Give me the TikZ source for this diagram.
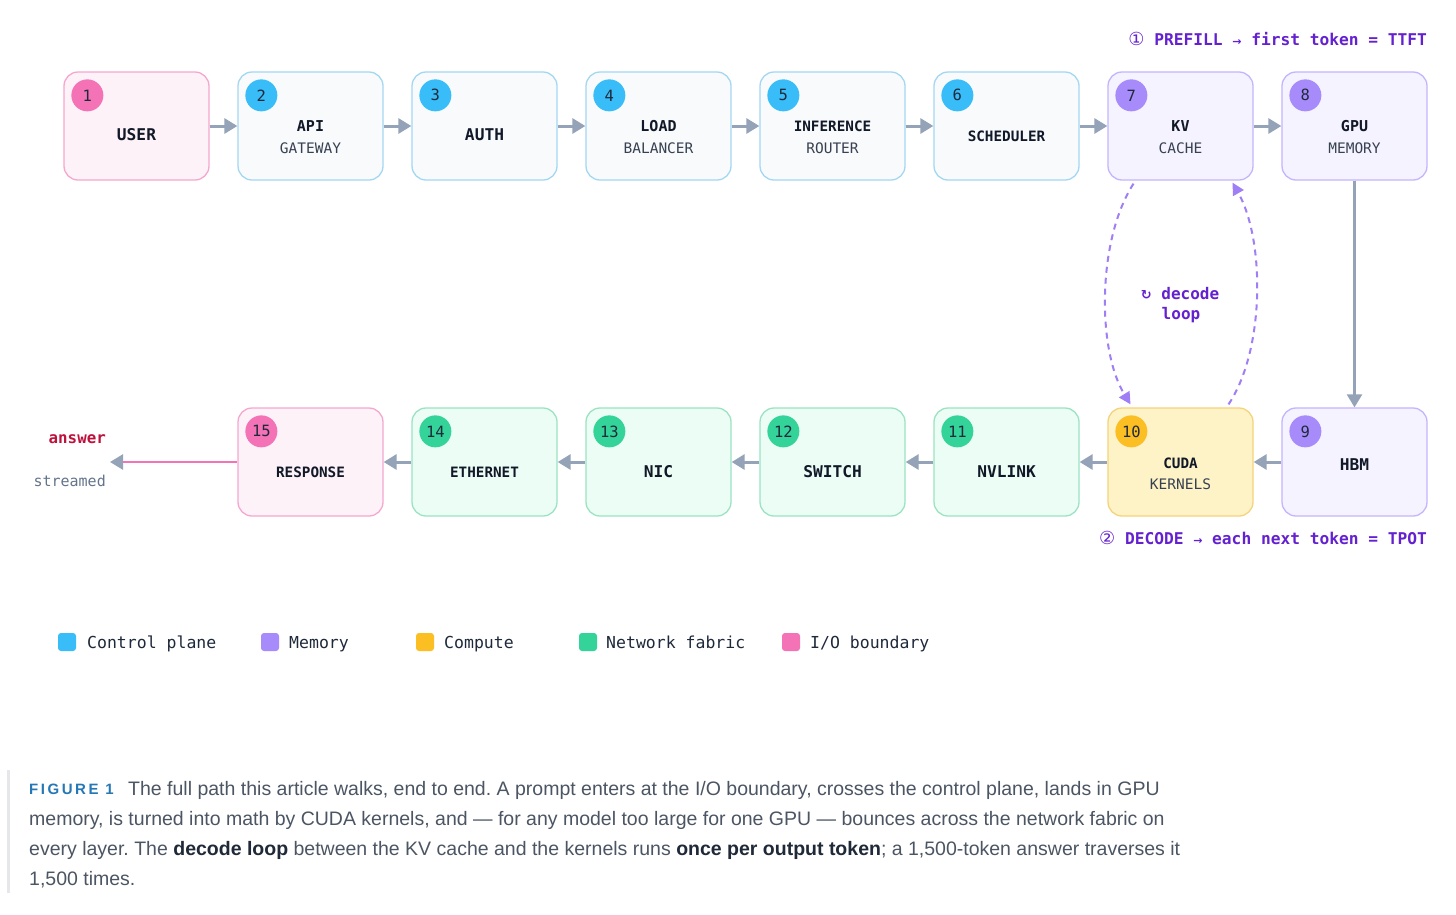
\documentclass[tikz,border=0pt]{standalone}
\usepackage{fontspec}
\setmainfont{Liberation Sans}
\setmonofont{DejaVu Sans Mono}
\newfontfamily\symfont{DejaVu Sans}
\newfontfamily\figfont[LetterSpace=17]{Liberation Sans}
\usetikzlibrary{arrows.meta}
\frenchspacing
\definecolor{ctrlFill}{HTML}{F8FAFC}
\definecolor{ctrlDraw}{HTML}{A3D7F2}
\definecolor{ctrlBadge}{HTML}{38BDF8}
\definecolor{memFill}{HTML}{F5F3FF}
\definecolor{memDraw}{HTML}{C4B5FD}
\definecolor{memBadge}{HTML}{A78BFA}
\definecolor{cmpFill}{HTML}{FEF3C7}
\definecolor{cmpDraw}{HTML}{F5D37A}
\definecolor{cmpBadge}{HTML}{FBBF24}
\definecolor{netFill}{HTML}{ECFDF5}
\definecolor{netDraw}{HTML}{9BE3C3}
\definecolor{netBadge}{HTML}{34D399}
\definecolor{ioFill}{HTML}{FDF2F8}
\definecolor{ioDraw}{HTML}{F5A8CF}
\definecolor{ioBadge}{HTML}{F472B6}
\definecolor{badgeText}{HTML}{1E293B}
\definecolor{titleC}{HTML}{111827}
\definecolor{subC}{HTML}{374151}
\definecolor{arrC}{HTML}{94A3B8}
\definecolor{purpleT}{HTML}{6421D0}
\definecolor{loopC}{HTML}{A07EF5}
\definecolor{answerC}{HTML}{BE123C}
\definecolor{grayT}{HTML}{64748B}
\definecolor{capT}{HTML}{4B5563}
\definecolor{capB}{HTML}{1F2937}
\definecolor{figC}{HTML}{2577B5}
\definecolor{barC}{HTML}{E5E7EB}
\tikzset{
  box/.style={draw, rounded corners=14pt, minimum width=145pt, minimum height=108pt, line width=1.3pt, inner sep=0pt},
  ctrlbox/.style={box, fill=ctrlFill, draw=ctrlDraw},
  membox/.style={box, fill=memFill, draw=memDraw},
  cmpbox/.style={box, fill=cmpFill, draw=cmpDraw},
  netbox/.style={box, fill=netFill, draw=netDraw},
  iobox/.style={box, fill=ioFill, draw=ioDraw},
  badge/.style={circle, minimum size=32pt, inner sep=0pt, font=\ttfamily\fontsize{15.5}{15}\selectfont, text=badgeText},
  ttl/.style={inner sep=0pt, text=titleC, font=\ttfamily\bfseries\fontsize{15}{15}\selectfont},
  ttlbig/.style={inner sep=0pt, text=titleC, font=\ttfamily\bfseries\fontsize{16.2}{16}\selectfont},
  ttlsm/.style={inner sep=0pt, text=titleC, font=\ttfamily\bfseries\fontsize{14.3}{14}\selectfont},
  sub/.style={inner sep=0pt, text=subC, font=\ttfamily\fontsize{14.5}{14}\selectfont},
  arr/.style={draw=arrC, line width=3pt, -{Triangle[length=13pt,width=15pt]}},
  loop/.style={draw=loopC, line width=2pt, dash pattern=on 6pt off 5pt, -{Triangle[length=12pt,width=12pt]}},
  swatch/.style={draw=none, rounded corners=3pt, minimum size=18pt, inner sep=0pt},
  legtxt/.style={inner sep=0pt, anchor=base west, text=badgeText, font=\ttfamily\fontsize{16.5}{16}\selectfont},
  phase/.style={inner sep=0pt, anchor=base east, text=purpleT, font=\ttfamily\bfseries\fontsize{16.2}{16}\selectfont},
  captxt/.style={inner sep=0pt, anchor=base west, text=capT, font=\fontsize{19.5}{19}\selectfont},
}
\begin{document}
\begin{tikzpicture}[x=1pt,y=-1pt]
\useasboundingbox (0,0) rectangle (1456,914);
\fill[white] (0,0) rectangle (1456,914);

% ---------- top row ----------
\node[iobox]   (n1) at (136.5,126) {};
\node[ctrlbox] (n2) at (310.5,126) {};
\node[ctrlbox] (n3) at (484.5,126) {};
\node[ctrlbox] (n4) at (658.5,126) {};
\node[ctrlbox] (n5) at (832.5,126) {};
\node[ctrlbox] (n6) at (1006.5,126) {};
\node[membox]  (n7) at (1180.5,126) {};
\node[membox]  (n8) at (1354.5,126) {};
% ---------- bottom row ----------
\node[membox]  (n9)  at (1354.5,462) {};
\node[cmpbox]  (n10) at (1180.5,462) {};
\node[netbox]  (n11) at (1006.5,462) {};
\node[netbox]  (n12) at (832.5,462) {};
\node[netbox]  (n13) at (658.5,462) {};
\node[netbox]  (n14) at (484.5,462) {};
\node[iobox]   (n15) at (310.5,462) {};

% badges
\node[badge, fill=ioBadge]   (b1) at ([shift={(24,24)}]n1.north west) {1};
\node[badge, fill=ctrlBadge] (b2) at ([shift={(24,24)}]n2.north west) {2};
\node[badge, fill=ctrlBadge] (b3) at ([shift={(24,24)}]n3.north west) {3};
\node[badge, fill=ctrlBadge] (b4) at ([shift={(24,24)}]n4.north west) {4};
\node[badge, fill=ctrlBadge] (b5) at ([shift={(24,24)}]n5.north west) {5};
\node[badge, fill=ctrlBadge] (b6) at ([shift={(24,24)}]n6.north west) {6};
\node[badge, fill=memBadge]  (b7) at ([shift={(24,24)}]n7.north west) {7};
\node[badge, fill=memBadge]  (b8) at ([shift={(24,24)}]n8.north west) {8};
\node[badge, fill=memBadge]  (b9) at ([shift={(24,24)}]n9.north west) {9};
\node[badge, fill=cmpBadge]  (b10) at ([shift={(24,24)}]n10.north west) {10};
\node[badge, fill=netBadge]  (b11) at ([shift={(24,24)}]n11.north west) {11};
\node[badge, fill=netBadge]  (b12) at ([shift={(24,24)}]n12.north west) {12};
\node[badge, fill=netBadge]  (b13) at ([shift={(24,24)}]n13.north west) {13};
\node[badge, fill=netBadge]  (b14) at ([shift={(24,24)}]n14.north west) {14};
\node[badge, fill=ioBadge]   (b15) at ([shift={(24,24)}]n15.north west) {15};

% titles
\node[ttlbig] (t1) at ([shift={(0,9)}]n1.center) {USER};
\node[ttl] (t2) at (n2.center) {API};
\node[sub] (s2) at ([shift={(0,22)}]n2.center) {GATEWAY};
\node[ttlbig] (t3) at ([shift={(0,9)}]n3.center) {AUTH};
\node[ttl] (t4) at (n4.center) {LOAD};
\node[sub] (s4) at ([shift={(0,22)}]n4.center) {BALANCER};
\node[ttlsm] (t5) at (n5.center) {INFERENCE};
\node[sub] (s5) at ([shift={(0,22)}]n5.center) {ROUTER};
\node[ttlsm] (t6) at ([shift={(0,10)}]n6.center) {SCHEDULER};
\node[ttl] (t7) at (n7.center) {KV};
\node[sub] (s7) at ([shift={(0,22)}]n7.center) {CACHE};
\node[ttl] (t8) at (n8.center) {GPU};
\node[sub] (s8) at ([shift={(0,22)}]n8.center) {MEMORY};
\node[ttlbig] (t9) at ([shift={(0,3)}]n9.center) {HBM};
\node[ttlsm] (t10) at ([shift={(0,1)}]n10.center) {CUDA};
\node[sub] (s10) at ([shift={(0,22)}]n10.center) {KERNELS};
\node[ttlbig] (t11) at ([shift={(0,10)}]n11.center) {NVLINK};
\node[ttlbig] (t12) at ([shift={(0,10)}]n12.center) {SWITCH};
\node[ttlbig] (t13) at ([shift={(0,10)}]n13.center) {NIC};
\node[ttlsm] (t14) at ([shift={(0,10)}]n14.center) {ETHERNET};
\node[ttlsm] (t15) at ([shift={(0,10)}]n15.center) {RESPONSE};

% connectors top row
\draw[arr] (n1.east) -- (n2.west);
\draw[arr] (n2.east) -- (n3.west);
\draw[arr] (n3.east) -- (n4.west);
\draw[arr] (n4.east) -- (n5.west);
\draw[arr] (n5.east) -- (n6.west);
\draw[arr] (n6.east) -- (n7.west);
\draw[arr] (n7.east) -- (n8.west);
% down
\draw[arr, line width=2.5pt] (n8.south) -- (n9.north);
% bottom row
\draw[arr] (n9.west) -- (n10.east);
\draw[arr] (n10.west) -- (n11.east);
\draw[arr] (n11.west) -- (n12.east);
\draw[arr] (n12.west) -- (n13.east);
\draw[arr] (n13.west) -- (n14.east);
\draw[arr] (n14.west) -- (n15.east);
% answer out
\coordinate (out) at (110,462);
\draw[draw=ioBadge, line width=2.5pt, -{Triangle[length=13pt,width=15pt,fill=arrC,color=arrC]}] (n15.west) -- (out);
\node[inner sep=0pt, anchor=base east, text=answerC, font=\ttfamily\bfseries\fontsize{15.8}{16}\selectfont] (ans) at (106,443) {answer};
\node[inner sep=0pt, anchor=base east, text=grayT, font=\ttfamily\fontsize{15}{15}\selectfont] (strm) at (106,486) {streamed};

% decode loop
\coordinate (kvL) at ([shift={(-47,3)}]n7.south);
\coordinate (kvR) at ([shift={(52,2)}]n7.south);
\coordinate (cuL) at ([shift={(-50,-3)}]n10.north);
\coordinate (cuR) at ([shift={(48,-3)}]n10.north);
\draw[loop] (kvL) .. controls (1097,240) and (1097,350) .. (cuL);
\draw[loop] (cuR) .. controls (1265,350) and (1265,240) .. (kvR);
\node[inner sep=0pt, anchor=base, text=purpleT, font=\ttfamily\bfseries\fontsize{16}{16}\selectfont] (dl1) at (1180,299) {{\symfont\fontsize{13}{13}\selectfont ↻} decode};
\node[inner sep=0pt, anchor=base, text=purpleT, font=\ttfamily\bfseries\fontsize{16}{16}\selectfont] (dl2) at (1181,319) {loop};

% phase labels
\node[phase] (p1) at (1427,45) {{\symfont\mdseries\fontsize{18}{18}\selectfont ①} PREFILL {\symfont\fontsize{11}{11}\selectfont →} first token = TTFT};
\node[phase] (p2) at (1427,544) {{\symfont\mdseries\fontsize{18}{18}\selectfont ②} DECODE {\symfont\fontsize{11}{11}\selectfont →} each next token = TPOT};

% legend
\node[swatch, fill=ctrlBadge] (l1) at (67,642) {};
\node[legtxt] (lt1) at (87,648) {Control plane};
\node[swatch, fill=memBadge] (l2) at (270,642) {};
\node[legtxt] (lt2) at (289,648) {Memory};
\node[swatch, fill=cmpBadge] (l3) at (425,642) {};
\node[legtxt] (lt3) at (444,648) {Compute};
\node[swatch, fill=netBadge] (l4) at (588,642) {};
\node[legtxt] (lt4) at (606,648) {Network fabric};
\node[swatch, fill=ioBadge] (l5) at (791,642) {};
\node[legtxt] (lt5) at (810,648) {I/O boundary};

% caption
\fill[barC] (7,770) rectangle (10,893);
\node[inner sep=0pt, anchor=base west, text=figC, font=\figfont\bfseries\fontsize{15}{15}\selectfont] (fig) at (29,794) {FIGURE 1};
\node[captxt] (c1) at (128,795) {The full path this article walks, end to end. A prompt enters at the I/O boundary, crosses the control plane, lands in GPU};
\node[captxt] (c2) at (29,825) {memory, is turned into math by CUDA kernels, and — for any model too large for one GPU — bounces across the network fabric on};
\node[captxt] (c3) at (29,855) {every layer. The {\color{capB}\bfseries decode loop} between the KV cache and the kernels runs {\color{capB}\bfseries once per output token}; a 1,500-token answer traverses it};
\node[captxt] (c4) at (29,885) {1,500 times.};
\end{tikzpicture}
\end{document}
